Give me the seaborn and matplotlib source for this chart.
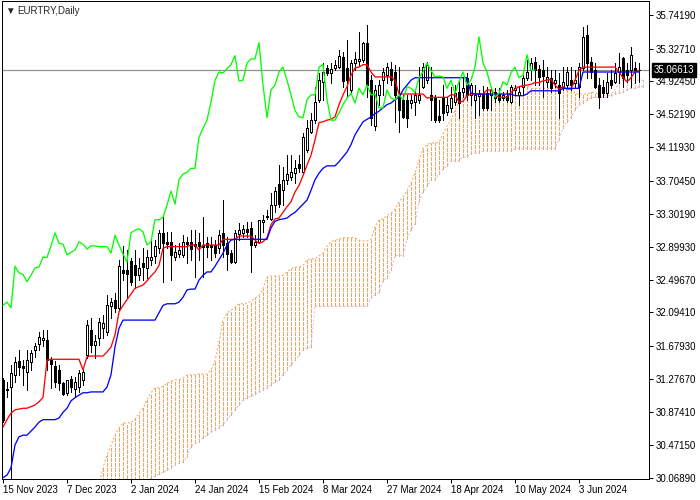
import numpy as np
import matplotlib
matplotlib.use("Agg")
import matplotlib.pyplot as plt
import matplotlib.transforms as mtransforms
import seaborn as sns

symbol = "EURTRY,Daily"
last_price = 35.06613

# daily candles, one entry per trading day (bar 0 = 15 Nov 2023)
opens = [
    31.27, 31.14, 31.18, 31.33, 31.50, 31.44, 31.37, 31.49, 31.63, 31.71,
    31.76, 31.76, 31.51, 31.44, 31.39, 31.23, 31.11, 31.28, 31.16, 31.18,
    31.27, 31.57, 31.88, 31.69, 31.78, 31.90, 31.85, 32.17, 32.25, 32.15,
    32.61, 32.61, 32.72, 32.67, 32.55, 32.70, 32.64, 32.74, 32.79, 32.88,
    33.07, 32.96, 32.96, 32.77, 32.81, 32.80, 32.96, 32.96, 32.93, 32.96,
    32.92, 32.94, 32.92, 32.92, 32.88, 33.07, 32.94, 32.82, 32.71, 33.05,
    33.07, 33.12, 33.13, 32.92, 32.96, 33.20, 33.27, 33.24, 33.41, 33.67,
    33.59, 33.72, 33.75, 33.80, 33.91, 33.81, 34.08, 34.30, 34.45, 34.70,
    34.92, 35.09, 35.03, 35.09, 35.10, 35.22, 35.09, 34.82, 35.15, 35.17,
    35.19, 35.40, 34.94, 34.38, 34.76, 34.94, 35.00, 35.08, 35.04, 34.76,
    34.70, 34.70, 34.66, 34.67, 34.70, 34.86, 34.94, 34.76, 34.73, 34.50,
    34.73, 34.55, 34.60, 34.67, 34.79, 34.79, 34.97, 34.76, 34.70, 34.75,
    34.77, 34.78, 34.76, 34.79, 34.77, 34.72, 34.75, 34.67, 34.82, 34.76,
    34.86, 34.97, 35.06, 35.16, 35.08, 35.06, 34.92, 34.97, 34.91, 34.88,
    34.86, 34.88, 34.94, 34.91, 34.86, 35.09, 35.49, 35.16, 35.06, 34.88,
    34.86, 34.78, 34.94, 34.92, 35.04, 35.21, 35.06, 35.06, 35.09, 35.06,
]
highs = [
    31.29, 31.24, 31.45, 31.55, 31.63, 31.51, 31.63, 31.63, 31.72, 31.85,
    31.88, 31.88, 31.55, 31.50, 31.45, 31.24, 31.27, 31.31, 31.30, 31.39,
    31.39, 32.00, 32.03, 31.82, 32.03, 32.06, 32.31, 32.27, 32.33, 32.74,
    32.91, 32.86, 32.76, 32.86, 32.76, 32.88, 32.86, 32.98, 32.98, 33.10,
    33.29, 33.08, 33.08, 32.92, 32.94, 33.04, 33.02, 33.10, 33.10, 33.07,
    33.26, 33.02, 33.02, 32.98, 33.10, 33.47, 33.02, 32.86, 33.10, 33.19,
    33.16, 33.20, 33.20, 33.04, 33.23, 33.29, 33.35, 33.56, 33.63, 33.90,
    33.88, 34.02, 34.02, 33.96, 34.02, 34.29, 34.45, 34.54, 34.86, 35.03,
    35.15, 35.13, 35.15, 35.19, 35.31, 35.28, 35.43, 35.19, 35.28, 35.53,
    35.41, 35.62, 35.00, 34.88, 34.94, 35.09, 35.15, 35.16, 35.13, 35.10,
    34.76, 34.76, 34.76, 34.80, 35.10, 35.15, 35.16, 35.10, 34.76, 34.70,
    34.88, 34.73, 34.86, 34.88, 34.92, 34.97, 35.03, 34.91, 34.88, 34.82,
    34.87, 34.86, 34.86, 34.84, 34.84, 34.79, 34.82, 34.88, 34.88, 34.86,
    35.00, 35.19, 35.21, 35.22, 35.13, 35.19, 35.10, 35.06, 35.06, 35.03,
    35.10, 35.10, 35.10, 35.06, 35.15, 35.59, 35.62, 35.22, 35.15, 34.97,
    34.94, 35.03, 35.06, 35.15, 35.27, 35.22, 35.15, 35.35, 35.16, 35.15,
]
lows = [
    30.75, 31.06, 30.02, 31.24, 31.33, 31.20, 31.14, 31.39, 31.55, 31.63,
    31.68, 31.39, 31.17, 31.18, 31.14, 31.08, 31.08, 31.12, 31.06, 31.12,
    31.20, 31.53, 31.61, 31.53, 31.69, 31.78, 31.82, 32.02, 32.10, 32.12,
    32.49, 32.28, 32.43, 32.39, 32.49, 32.49, 32.52, 32.67, 32.70, 32.82,
    32.47, 32.88, 32.49, 32.74, 32.77, 32.77, 32.70, 32.74, 32.53, 32.74,
    32.53, 32.77, 32.74, 32.77, 32.82, 32.77, 32.61, 32.70, 32.70, 32.98,
    33.02, 33.02, 32.59, 32.90, 32.94, 33.08, 33.24, 33.23, 33.32, 33.39,
    33.41, 33.67, 33.72, 33.68, 33.81, 33.80, 34.06, 34.29, 34.41, 34.67,
    34.70, 35.00, 34.91, 35.06, 35.09, 34.86, 34.73, 34.79, 35.06, 35.13,
    35.16, 34.73, 34.39, 34.33, 34.64, 34.76, 34.91, 34.88, 34.43, 34.30,
    34.48, 34.37, 34.60, 34.51, 34.66, 34.84, 34.91, 34.45, 34.43, 34.43,
    34.45, 34.51, 34.55, 34.64, 34.48, 34.73, 34.70, 34.64, 34.48, 34.51,
    34.57, 34.57, 34.57, 34.67, 34.67, 34.70, 34.67, 34.66, 34.76, 34.64,
    34.76, 34.94, 34.94, 34.88, 34.88, 34.73, 34.86, 34.79, 34.86, 34.48,
    34.82, 34.84, 34.82, 34.84, 34.73, 35.06, 34.97, 34.97, 34.84, 34.60,
    34.73, 34.73, 34.84, 34.91, 34.91, 34.86, 34.92, 34.86, 34.91, 34.92,
]
closes = [
    30.78, 31.16, 31.35, 31.49, 31.42, 31.41, 31.51, 31.60, 31.68, 31.79,
    31.78, 31.51, 31.46, 31.24, 31.23, 31.10, 31.27, 31.18, 31.24, 31.35,
    31.37, 31.94, 31.69, 31.74, 31.98, 31.97, 32.18, 32.22, 32.15, 32.66,
    32.58, 32.56, 32.47, 32.55, 32.64, 32.65, 32.77, 32.77, 32.91, 33.07,
    32.94, 32.93, 32.80, 32.83, 32.86, 32.96, 32.93, 32.87, 32.91, 32.91,
    32.90, 32.90, 32.90, 32.82, 33.04, 32.92, 32.81, 32.71, 33.07, 33.10,
    33.12, 33.08, 32.92, 32.96, 33.23, 33.23, 33.26, 33.41, 33.58, 33.42,
    33.72, 33.79, 33.81, 33.86, 33.86, 34.24, 34.35, 34.45, 34.67, 34.94,
    35.04, 35.03, 35.08, 35.13, 35.24, 34.93, 34.94, 35.15, 35.20, 35.20,
    35.40, 34.88, 34.48, 34.82, 34.88, 35.04, 35.10, 34.94, 34.76, 34.57,
    34.49, 34.48, 34.70, 34.76, 34.76, 35.10, 35.13, 34.70, 34.45, 34.45,
    34.54, 34.64, 34.72, 34.78, 34.66, 34.84, 34.76, 34.88, 34.76, 34.77,
    34.60, 34.60, 34.82, 34.72, 34.70, 34.76, 34.70, 34.86, 34.84, 34.79,
    34.97, 35.04, 35.15, 35.06, 34.98, 34.99, 34.98, 34.84, 34.94, 34.78,
    34.92, 35.04, 34.88, 34.94, 35.10, 35.47, 35.15, 35.04, 34.86, 34.73,
    34.78, 34.92, 34.88, 35.03, 35.10, 34.97, 35.00, 35.25, 35.06, 35.066,
]

# Ichimoku lines
tenkan = [
    30.69, 30.78, 30.86, 30.90, 30.91, 30.92, 30.92, 30.94, 30.96, 31.00,
    31.05, 31.51, 31.52, 31.52, 31.52, 31.52, 31.52, 31.52, 31.52, 31.52,
    31.39, 31.55, 31.56, 31.56, 31.56, 31.56, 31.61, 31.67, 31.82, 32.10,
    32.18, 32.25, 32.32, 32.39, 32.41, 32.43, 32.48, 32.54, 32.59, 32.67,
    32.88, 32.90, 32.90, 32.90, 32.90, 32.90, 32.90, 32.92, 32.92, 32.86,
    32.92, 32.92, 32.92, 32.92, 32.92, 32.99, 32.99, 32.99, 32.99, 33.03,
    33.03, 33.03, 33.03, 32.98, 32.94, 32.96, 33.01, 33.17, 33.24, 33.25,
    33.32, 33.39, 33.45, 33.57, 33.65, 33.77, 33.90, 34.02, 34.21, 34.42,
    34.43, 34.45, 34.46, 34.49, 34.64, 34.76, 34.86, 35.00, 35.09, 35.10,
    35.13, 35.13, 35.04, 34.98, 34.98, 34.98, 34.98, 34.98, 34.94, 34.77,
    34.77, 34.77, 34.77, 34.77, 34.77, 34.77, 34.72, 34.73, 34.73, 34.73,
    34.73, 34.73, 34.76, 34.76, 34.67, 34.68, 34.75, 34.77, 34.77, 34.77,
    34.77, 34.82, 34.82, 34.76, 34.73, 34.73, 34.73, 34.79, 34.83, 34.86,
    34.87, 34.88, 34.89, 34.91, 34.91, 34.93, 34.94, 34.95, 34.88, 34.83,
    34.86, 34.83, 34.83, 34.94, 35.06, 35.10, 35.10, 35.10, 35.10, 35.10,
    35.10, 35.10, 35.10, 35.10, 35.04, 34.97, 34.92, 34.97, 35.04, 35.06,
]
kijun = [
    30.07, 30.10, 30.19, 30.47, 30.57, 30.59, 30.59, 30.64, 30.69, 30.75,
    30.78, 30.78, 30.78, 30.78, 30.80, 30.87, 30.92, 31.01, 31.05, 31.08,
    31.11, 31.11, 31.12, 31.12, 31.12, 31.12, 31.18, 31.33, 31.67, 31.90,
    32.00, 32.00, 32.00, 32.00, 32.00, 32.00, 32.00, 32.00, 32.00, 32.09,
    32.18, 32.20, 32.20, 32.20, 32.22, 32.28, 32.37, 32.38, 32.38, 32.49,
    32.55, 32.59, 32.59, 32.66, 32.74, 32.82, 32.92, 32.98, 32.99, 32.99,
    32.99, 32.99, 32.99, 32.99, 32.99, 32.99, 32.99, 33.13, 33.21, 33.23,
    33.24, 33.25, 33.29, 33.32, 33.37, 33.42, 33.47, 33.59, 33.72, 33.80,
    33.86, 33.89, 33.89, 33.89, 33.94, 34.00, 34.06, 34.15, 34.27, 34.35,
    34.43, 34.46, 34.49, 34.53, 34.56, 34.60, 34.64, 34.66, 34.70, 34.73,
    34.82, 34.88, 34.94, 34.97, 34.97, 34.97, 34.97, 34.97, 34.97, 34.97,
    34.97, 34.97, 34.97, 34.97, 34.97, 34.97, 34.97, 34.78, 34.77, 34.77,
    34.77, 34.77, 34.77, 34.77, 34.77, 34.77, 34.77, 34.77, 34.75, 34.75,
    34.75, 34.77, 34.81, 34.81, 34.81, 34.81, 34.81, 34.81, 34.81, 34.81,
    34.84, 34.84, 34.84, 34.84, 34.84, 35.04, 35.04, 35.04, 35.04, 35.04,
    35.04, 35.04, 35.04, 35.04, 35.04, 35.04, 35.04, 35.04, 35.04, 35.04,
]

# cloud edges, from bar 24 up to bar 160 (projected 26 bars ahead)
cloud_first_bar = 24
span_a = [
    29.98, 30.19, 30.35, 30.46, 30.59, 30.68, 30.74, 30.74, 30.74, 30.79,
    30.86, 30.92, 31.02, 31.11, 31.17, 31.17, 31.19, 31.23, 31.25, 31.27,
    31.27, 31.29, 31.33, 31.33, 31.33, 31.34, 31.34, 31.34, 31.39, 31.50,
    31.74, 32.00, 32.09, 32.12, 32.16, 32.20, 32.20, 32.21, 32.23, 32.27,
    32.30, 32.38, 32.53, 32.54, 32.54, 32.54, 32.55, 32.59, 32.63, 32.65,
    32.65, 32.67, 32.74, 32.75, 32.75, 32.79, 32.82, 32.91, 32.96, 32.98,
    32.99, 33.01, 33.01, 33.01, 33.01, 32.98, 32.97, 32.97, 32.99, 33.14,
    33.23, 33.24, 33.28, 33.31, 33.36, 33.45, 33.51, 33.59, 33.68, 33.80,
    33.96, 34.11, 34.15, 34.17, 34.17, 34.18, 34.28, 34.38, 34.45, 34.57,
    34.67, 34.72, 34.77, 34.79, 34.76, 34.75, 34.77, 34.78, 34.81, 34.82,
    34.81, 34.75, 34.79, 34.82, 34.86, 34.87, 34.87, 34.87, 34.84, 34.84,
    34.84, 34.84, 34.84, 34.84, 34.86, 34.86, 34.82, 34.82, 34.86, 34.77,
    34.77, 34.77, 34.77, 34.79, 34.79, 34.76, 34.75, 34.75, 34.75, 34.77,
    34.78, 34.79, 34.82, 34.84, 34.84, 34.86, 34.86,
]
span_b = [
    29.70, 29.70, 29.72, 29.74, 29.76, 29.78, 29.80, 29.82, 29.84, 29.86,
    29.88, 29.90, 29.95, 30.07, 30.09, 30.11, 30.14, 30.16, 30.19, 30.22,
    30.25, 30.26, 30.32, 30.45, 30.49, 30.51, 30.56, 30.59, 30.63, 30.65,
    30.68, 30.71, 30.78, 30.84, 30.90, 30.96, 31.02, 31.05, 31.07, 31.09,
    31.12, 31.14, 31.17, 31.20, 31.24, 31.27, 31.33, 31.39, 31.45, 31.51,
    31.57, 31.63, 31.66, 31.67, 32.17, 32.17, 32.17, 32.17, 32.17, 32.17,
    32.17, 32.17, 32.17, 32.17, 32.17, 32.17, 32.17, 32.17, 32.27, 32.31,
    32.34, 32.48, 32.52, 32.61, 32.79, 32.79, 32.79, 32.99, 33.10, 33.18,
    33.45, 33.57, 33.64, 33.72, 33.72, 33.79, 33.85, 33.89, 33.95, 33.95,
    33.95, 34.00, 34.00, 34.04, 34.05, 34.05, 34.07, 34.07, 34.07, 34.07,
    34.07, 34.07, 34.07, 34.07, 34.10, 34.10, 34.10, 34.10, 34.10, 34.10,
    34.10, 34.10, 34.10, 34.10, 34.10, 34.21, 34.35, 34.43, 34.48, 34.57,
    34.64, 34.66, 34.70, 34.72, 34.73, 34.73, 34.73, 34.73, 34.77, 34.83,
    34.89, 34.94, 34.94, 34.94, 34.94, 34.94, 34.94,
]
chikou_shift = 26

date_bars = [0, 16, 32, 48, 64, 80, 96, 112, 128, 144]
date_labels = ["15 Nov 2023", "7 Dec 2023", "2 Jan 2024", "24 Jan 2024", "15 Feb 2024",
               "8 Mar 2024", "27 Mar 2024", "18 Apr 2024", "10 May 2024", "3 Jun 2024"]
price_ticks = [35.74190, 35.32710, 34.92450, 34.52190, 34.11930, 33.70450, 33.30190,
               32.89930, 32.49670, 32.09410, 31.67930, 31.27670, 30.87410, 30.47150, 30.06890]

sns.set_style("white")
plt.rcParams["font.family"] = ["Liberation Sans", "DejaVu Sans"]

px = 0.72  # one pixel in points at 100 dpi

fig = plt.figure(figsize=(7, 5), dpi=100)
ax = fig.add_axes([2 / 700, 21 / 500, 647 / 700, 478 / 500])

bars = np.arange(len(closes))
o, h, l, c = (np.array(v) for v in (opens, highs, lows, closes))
cx = np.arange(cloud_first_bar, cloud_first_bar + len(span_a))
a = np.array(span_a)
b = np.array(span_b)

# kumo: dotted vertical lines between the spans
up = a >= b
ax.vlines(cx[up], b[up], a[up], colors="sandybrown", linewidth=px,
          linestyles=(0, (3, 2)), antialiased=False, zorder=1)
ax.vlines(cx[~up], a[~up], b[~up], colors="thistle", linewidth=px,
          linestyles=(0, (3, 2)), antialiased=False, zorder=1)
sns.lineplot(x=cx, y=a, color="sandybrown", lw=px, linestyle=(0, (2, 2)), ax=ax, zorder=2)
sns.lineplot(x=cx, y=b, color="thistle", lw=px, linestyle=(0, (2, 2)), ax=ax, zorder=2)

ax.axhline(last_price, color="#8a8f94", lw=px * 1.2, zorder=2.5)

# candles
ax.vlines(bars, l, h, colors="black", linewidth=px, antialiased=False, zorder=3)
rise = c >= o
ax.bar(bars[rise], c[rise] - o[rise], bottom=o[rise], width=0.6, color="white",
       edgecolor="black", linewidth=px, antialiased=False, zorder=4)
ax.bar(bars[~rise], o[~rise] - c[~rise], bottom=c[~rise], width=0.6, color="black",
       edgecolor="black", linewidth=px, antialiased=False, zorder=4)

sns.lineplot(x=bars, y=tenkan, color="red", lw=px * 1.3, ax=ax, zorder=5)
sns.lineplot(x=bars, y=kijun, color="blue", lw=px * 1.3, ax=ax, zorder=5)
sns.lineplot(x=bars[:-chikou_shift], y=c[chikou_shift:], color="lime", lw=px * 1.3,
             ax=ax, zorder=5)

ax.set_xlim(-0.25, 161.5)
ax.set_ylim(30.053, 35.910)
ax.set_xlabel("")
ax.set_ylabel("")

ax.yaxis.tick_right()
ax.set_yticks(price_ticks)
ax.set_yticklabels([f"{v:.5f}" for v in price_ticks])
ax.set_xticks(date_bars)
ax.set_xticklabels(date_labels, ha="left")
ax.tick_params(axis="both", direction="out", length=3, width=px, colors="black",
               labelsize=7, pad=1.5)
ax.tick_params(axis="y", right=True, left=False)
ax.tick_params(axis="x", bottom=True)
for side in ["left", "right", "top", "bottom"]:
    ax.spines[side].set_color("black")
    ax.spines[side].set_linewidth(px)

trans = mtransforms.blended_transform_factory(ax.transAxes, ax.transData)
ax.text(1 + 5 / 647, last_price, f"{last_price:.5f}", transform=trans, color="white",
        fontsize=7, va="center", ha="left", clip_on=False, zorder=10,
        bbox=dict(boxstyle="square,pad=0.2", fc="black", ec="black"))

fig.text(5 / 700, 1 - 11 / 500, "\u25bc", fontsize=7, va="center", ha="left")
fig.text(17 / 700, 1 - 11 / 500, symbol, fontsize=7, va="center", ha="left")

fig.savefig("out.png", dpi=100)
